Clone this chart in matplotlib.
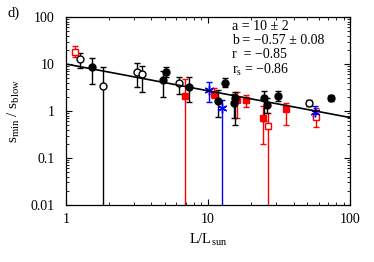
import numpy as np
import matplotlib
matplotlib.use('Agg')
import matplotlib.pyplot as plt

plt.rcParams['font.family'] = ['Liberation Serif', 'DejaVu Serif']
plt.rcParams['mathtext.fontset'] = 'custom'
plt.rcParams['mathtext.rm'] = 'Liberation Serif'
plt.rcParams['mathtext.it'] = 'Liberation Serif:italic'

# fit parameters
fit_a = 10.0
fit_b = -0.57

# black filled circles: x, y, lower, upper
bf_x = [1.52, 4.82, 5.06, 7.35, 11.7, 13.2, 15.5, 15.3, 24.8, 26.0, 31.0, 73.5]
bf_y = [8.6, 4.6, 6.8, 3.3, 1.63, 4.0, 1.9, 1.5, 1.9, 1.34, 2.1, 1.9]
bf_lo = [3.75, 2.0, 5.3, 1.55, 0.74, 3.3, 0.5, 0.7, 0.6, 0.9, 1.6, 1.6]
bf_hi = [13.4, 7.1, 8.6, 5.3, 2.8, 5.0, 2.5, 2.3, 2.7, 1.9, 2.6, 2.2]

# black open circles
bo_x = [1.26, 1.82, 3.16, 3.43, 6.25, 51.0]
bo_y = [12.5, 3.4, 6.8, 6.1, 4.0, 1.48]
bo_lo = [8.2, 0.001, 3.2, 2.5, 2.3, 1.25]
bo_hi = [17.0, 8.6, 10.5, 9.1, 5.4, 1.75]

# red filled squares
rf_x = [6.9, 11.0, 15.9, 18.5, 24.4, 35.4]
rf_y = [2.1, 2.3, 1.7, 1.75, 0.7, 1.1]
rf_lo = [0.001, 1.9, 0.7, 1.2, 0.2, 0.5]
rf_hi = [4.8, 3.1, 2.5, 2.2, 1.3, 1.5]

# red open squares
ro_x = [1.16, 26.4, 57.6]
ro_y = [18.0, 0.47, 0.76]
ro_lo = [14.0, 0.001, 0.45]
ro_hi = [24.0, 0.9, 1.15]

# blue stars
bs_x = [10.2, 12.6, 56.7]
bs_y = [2.85, 1.16, 0.95]
bs_lo = [1.55, 0.001, 0.78]
bs_hi = [4.1, 1.7, 1.3]

fig = plt.figure(figsize=(3.74, 2.62), dpi=100)
ax = fig.add_axes([0.176, 0.218, 0.760, 0.717])


def draw(x, y, lo, hi, color, marker, filled, ms):
    x = np.array(x)
    y = np.array(y)
    err = [y - np.array(lo), np.array(hi) - y]
    ax.errorbar(x, y, yerr=err, fmt='none', ecolor=color, elinewidth=1.0,
                capsize=2, capthick=1.0, zorder=2)
    ax.plot(x, y, linestyle='none', marker=marker, ms=ms,
            mfc=color if filled else 'white', mec=color, mew=1.0, zorder=3)


xf = np.array([1.0, 100.0])
ax.plot(xf, fit_a * xf ** fit_b, color='black', lw=1.2, zorder=4)

draw(rf_x, rf_y, rf_lo, rf_hi, 'red', 's', True, 5)
draw(ro_x, ro_y, ro_lo, ro_hi, 'red', 's', False, 5)
draw(bs_x, bs_y, bs_lo, bs_hi, 'blue', (6, 2, 0), False, 7)
draw(bo_x, bo_y, bo_lo, bo_hi, 'black', 'o', False, 5)
draw(bf_x, bf_y, bf_lo, bf_hi, 'black', 'o', True, 5)

ax.set_xscale('log')
ax.set_yscale('log')
ax.set_xlim(1, 100)
ax.set_ylim(0.01, 100)
ax.set_xticks([1, 10, 100])
ax.set_xticklabels(['1', '10', '100'])
ax.set_yticks([0.01, 0.1, 1, 10, 100])
ax.set_yticklabels(['0.01', '0.1', '1', '10', '100'])
ax.tick_params(which='both', direction='in', top=True, right=True, labelsize=10)
ax.tick_params(which='major', length=4, width=0.8)
ax.tick_params(which='minor', length=2, width=0.6)
ax.tick_params(axis='x', pad=6)
ax.tick_params(axis='y', pad=8)
for s in ax.spines.values():
    s.set_linewidth(0.9)

ax.set_xlabel(r'L/L$_{\rm sun}$', fontsize=10.5, labelpad=4)
ax.set_ylabel(r's$_{\rm min}$ / s$_{\rm blow}$', fontsize=11, labelpad=6)

ax.text(0.585, 0.985, 'a = 10 \u00b1 2', transform=ax.transAxes, fontsize=10, va='top')
ax.text(0.585, 0.91, 'b = \u22120.57 \u00b1 0.08', transform=ax.transAxes, fontsize=10, va='top')
ax.text(0.585, 0.835, 'r  = \u22120.85', transform=ax.transAxes, fontsize=10, va='top')
ax.text(0.585, 0.76, r'r$_{\rm s}$ = ' + '\u22120.86', transform=ax.transAxes, fontsize=10, va='top')

fig.text(0.02, 0.975, 'd)', fontsize=10.5, va='top')

fig.savefig('out.png', dpi=100)
